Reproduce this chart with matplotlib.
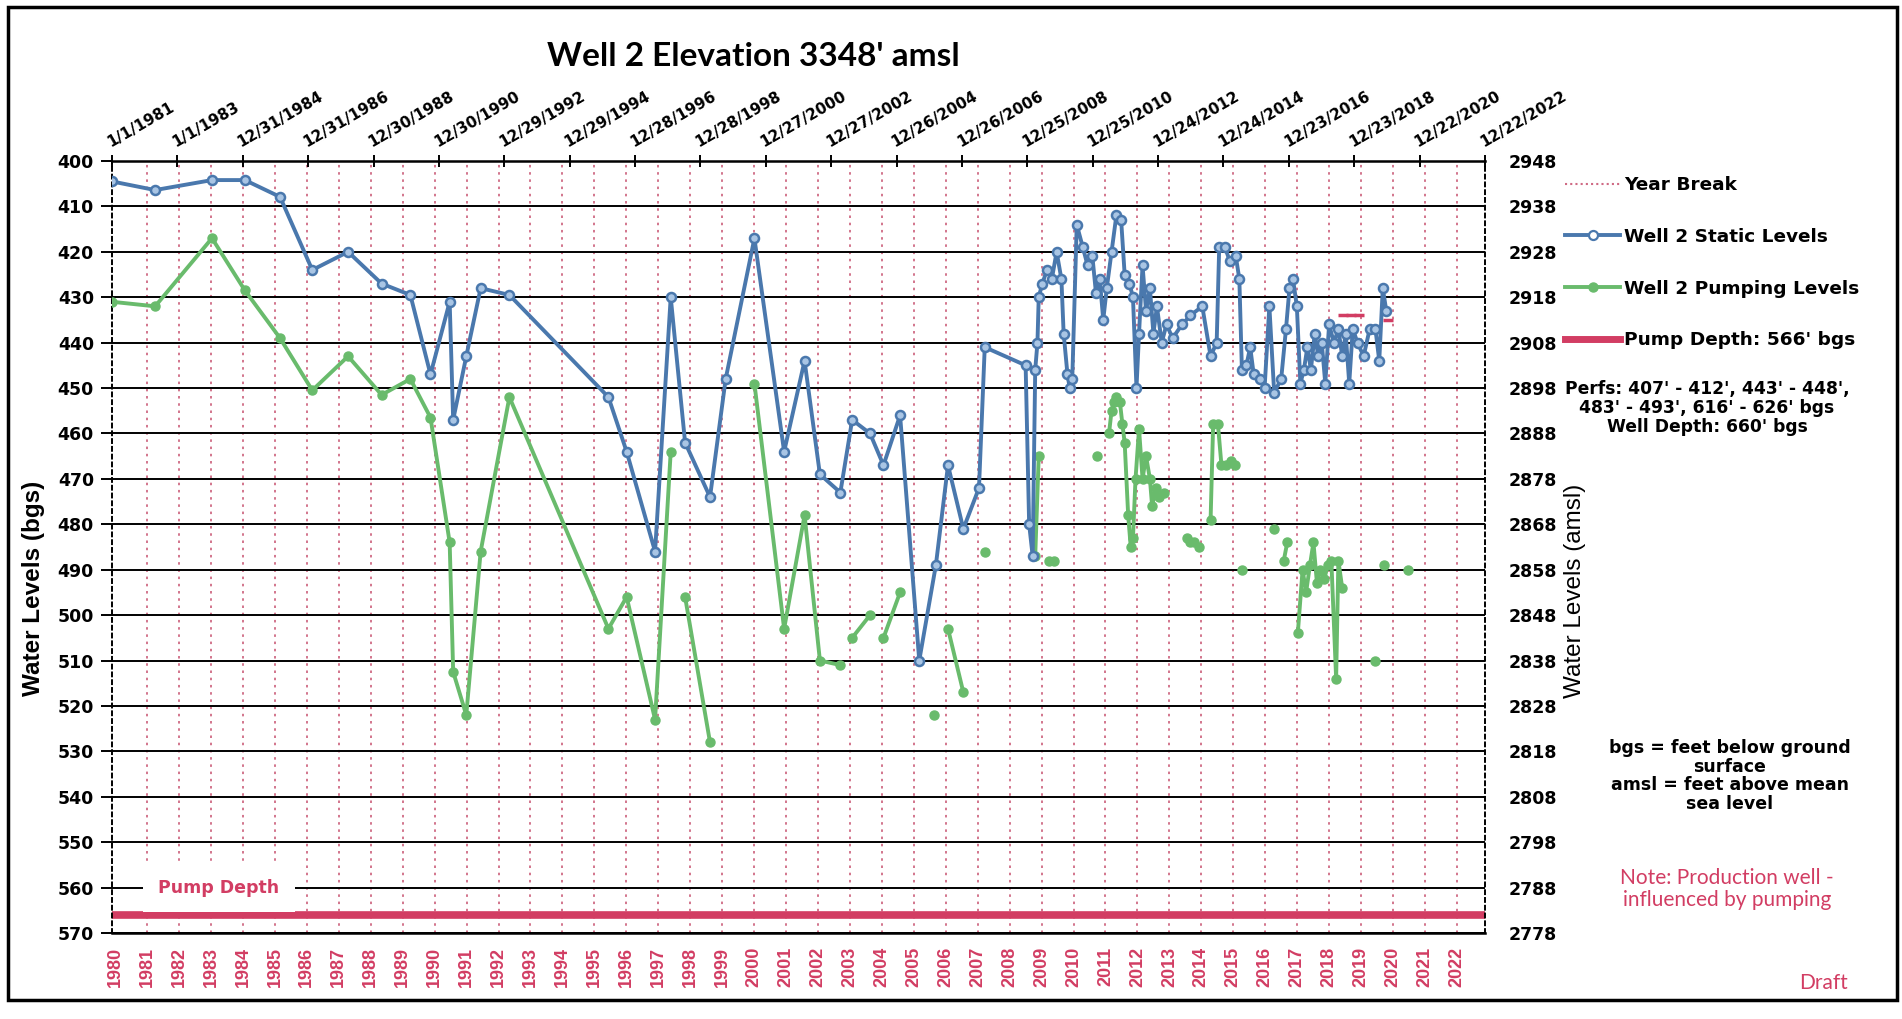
import numpy as np
import matplotlib
matplotlib.use('Agg')
import matplotlib.pyplot as plt
import matplotlib.dates as mdates
from matplotlib.lines import Line2D
from matplotlib.patches import Rectangle
from datetime import datetime, timedelta

plt.rcParams['font.family'] = ['DejaVu Sans']
ARIAL = ['Liberation Sans', 'DejaVu Sans']
CALIBRI = ['Lato', 'DejaVu Sans']

nan = np.nan

# ---- data (decimal year on the year-break axis, feet below ground) ----
static_yr = [1979.9, 1981.25, 1983.03, 1984.06, 1985.16, 1986.17, 1987.29, 1988.34, 1989.24, 1989.87,
             1990.47, 1990.58, 1990.99, 1991.44, 1992.34, 1995.44, 1996.01, 1996.90, 1997.39, 1997.84,
             1998.62, 1999.11, 2000.01, 2000.94, 2001.58, 2002.06, 2002.70, 2003.07, 2003.63, 2004.05,
             2004.57, 2005.17, 2005.69, 2006.07, 2006.55, 2007.04, 2007.22, 2008.50, 2008.61, 2008.72,
             2008.80, 2008.87, 2008.91, 2009.02, 2009.17, 2009.32, 2009.47, 2009.62, 2009.69, 2009.81,
             2009.88, 2009.96, 2010.10, 2010.29, 2010.44, 2010.59, 2010.70, 2010.82, 2010.93, 2011.04,
             2011.19, 2011.34, 2011.49, 2011.60, 2011.75, 2011.86, 2011.97, 2012.05, 2012.16, 2012.27,
             2012.39, 2012.50, 2012.61, 2012.76, 2012.91, 2013.10, 2013.40, 2013.66, 2014.03, 2014.29,
             2014.48, 2014.56, 2014.74, 2014.89, 2015.08, 2015.19, 2015.27, 2015.41, 2015.53, 2015.64,
             2015.83, 2015.98, 2016.13, 2016.28, 2016.50, 2016.65, 2016.76, 2016.87, 2016.99, 2017.10,
             2017.21, 2017.32, 2017.43, 2017.55, 2017.66, 2017.77, 2017.88, 2018.00, 2018.15, 2018.29,
             2018.41, 2018.52, 2018.63, 2018.74, 2018.89, 2019.08, 2019.27, 2019.45, 2019.57, 2019.68,
             2019.79]
static_bgs = [404.5, 406.4, 404.2, 404.2, 407.9, 424, 420, 427, 429.5, 447,
              431, 457, 443, 428, 429.5, 452, 464, 486, 430, 462,
              474, 448, 417, 464, 444, 469, 473, 457, 460, 467,
              456, 510, 489, 467, 481, 472, 441, 445, 480, 487,
              446, 440, 430, 427, 424, 426, 420, 426, 438, 447,
              450, 448, 414, 419, 423, 421, 429, 426, 435, 428,
              420, 412, 413, 425, 427, 430, 450, 438, 423, 433,
              428, 438, 432, 440, 436, 439, 436, 434, 432, 443,
              440, 419, 419, 422, 421, 426, 446, 445, 441, 447,
              448, 450, 432, 451, 448, 437, 428, 426, 432, 449,
              446, 441, 446, 438, 443, 440, 449, 436, 440, 437,
              443, 438, 449, 437, 440, 443, 437, 437, 444, 428,
              433]

pump_yr = [1979.9, 1981.25, 1983.03, 1984.06, 1985.16, 1986.17, 1987.29, 1988.34, 1989.24, 1989.87,
           1990.47, 1990.58, 1990.99, 1991.44, 1992.34, 1995.44, 1996.01, 1996.90, 1997.39, nan,
           1997.84, 1998.62, nan,
           2000.01, 2000.94, 2001.58, 2002.06, 2002.70, nan,
           2003.07, 2003.63, nan,
           2004.05, 2004.57, nan,
           2005.62, nan,
           2006.07, 2006.55, nan,
           2007.22, nan,
           2008.80, 2008.91, nan,
           2009.24, 2009.39, nan,
           2010.74, nan,
           2011.11, 2011.19, 2011.26, 2011.34, 2011.45, 2011.53, 2011.60, 2011.71, 2011.79, 2011.86,
           2011.94, 2012.05, 2012.16, 2012.27, 2012.39, 2012.46, 2012.57, 2012.68, 2012.83, nan,
           2013.55, 2013.66, 2013.77, 2013.92, nan,
           2014.29, 2014.37, 2014.52, 2014.63, 2014.78, 2014.93, 2015.04, nan,
           2015.27, nan,
           2016.28, nan,
           2016.58, 2016.69, nan,
           2017.02, 2017.17, 2017.28, 2017.40, 2017.51, 2017.62, 2017.73, 2017.85, 2017.96, 2018.07,
           2018.22, 2018.29, 2018.41, nan,
           2019.45, nan,
           2019.72, nan,
           2020.46]
pump_bgs = [431, 432, 417, 428.5, 439, 450.5, 443, 451.5, 448, 456.5,
            484, 512.5, 522, 486, 452, 503, 496, 523, 464, nan,
            496, 528, nan,
            449, 503, 478, 510, 511, nan,
            505, 500, nan,
            505, 495, nan,
            522, nan,
            503, 517, nan,
            486, nan,
            487, 465, nan,
            488, 488, nan,
            465, nan,
            460, 455, 453, 452, 453, 458, 462, 478, 485, 483,
            470, 459, 470, 465, 470, 476, 472, 474, 473, nan,
            483, 484, 484, 485, nan,
            479, 458, 458, 467, 467, 466, 467, nan,
            490, nan,
            481, nan,
            488, 484, nan,
            504, 490, 495, 489, 484, 493, 490, 492, 489, 488,
            514, 488, 494, nan,
            510, nan,
            489, nan,
            490]

red_yr = [2018.45, 2018.7, 2018.95, 2019.85]
red_bgs = [434, 434, 434, 435]

years = list(range(1980, 2023))
break_years = years[1:]
top_dates = [datetime(1981, 1, 1) + timedelta(days=730 * i) for i in range(22)]
top_labels = [f"{d.month}/{d.day}/{d.year}" for d in top_dates]
elevation = 3348
pump_depth = 566
bgs_ticks = list(range(400, 571, 10))
amsl_ticks = [elevation - v for v in bgs_ticks]

# ---- colours ----
BLUE = '#4a78ad'
BLUE_FILL = '#a9c5e4'
GREEN = '#69bb6c'
RED = '#d23d63'
BREAK = '#cf6a84'

W, H = 1902, 1019
def fx(px):
    return px / W
def fy(py):
    return 1 - py / H

fig = plt.figure(figsize=(W / 100, H / 100), dpi=100)
L, R, T, B = 112, 1485, 161, 933
ax = fig.add_axes([fx(L), fy(B), (R - L) / W, (B - T) / H])

ax.set_xlim(1979.9, 2022.88)
ax.set_ylim(570, 400)

for yr in break_years:
    ax.axvline(yr, color=BREAK, lw=1.3, ls=(0, (1.4, 2.6)), zorder=1)
ax.set_yticks(bgs_ticks)
ax.grid(axis='y', color='black', lw=1.4, zorder=1)

ax.axhline(pump_depth, color=RED, lw=5.5, zorder=2)
ax.plot(static_yr, static_bgs, color=BLUE, lw=2.8, marker='o', ms=6.5,
        mfc=BLUE_FILL, mec=BLUE, mew=1.8, zorder=4)
ax.plot(pump_yr, pump_bgs, color=GREEN, lw=2.8, marker='o', ms=6.5,
        mfc=GREEN, mec=GREEN, zorder=3)
ax.plot(red_yr, red_bgs, ls='none', marker='_', ms=7, mew=2.5, color=RED, zorder=5)

ax.text(1983.25, 560, 'Pump Depth', color=RED, fontsize=12.5, fontweight='bold',
        ha='center', va='center', zorder=3,
        bbox=dict(boxstyle='square,pad=0.9', fc='white', ec='none'))

ax.set_xticks(years)
ax.set_xticklabels([str(y) for y in years], rotation=90, color=RED,
                   fontsize=13, fontweight='bold', family=ARIAL)
ax.tick_params(axis='x', length=0, pad=10)
ax.tick_params(axis='y', direction='out', length=8, width=1.4, pad=5,
               labelsize=12.5)
for lab in ax.get_yticklabels():
    lab.set_fontweight('bold')

for side in ['left', 'right']:
    ax.spines[side].set_linestyle((0, (2, 2)))
    ax.spines[side].set_linewidth(1.4)
ax.spines['top'].set_linewidth(1.8)
ax.spines['bottom'].set_linewidth(1.8)

# top date axis
ax_top = ax.twiny()
ax_top.set_xlim(mdates.date2num(top_dates[0]), mdates.date2num(top_dates[-1]))
ax_top.set_xticks([mdates.date2num(d) for d in top_dates])
ax_top.tick_params(axis='x', direction='inout', length=8, width=1.4, pad=4)
ax_top.set_xticklabels(top_labels, fontsize=11, fontweight='bold',
                       rotation=30, ha='left', rotation_mode='anchor')
for s in ax_top.spines.values():
    s.set_visible(False)

# right amsl axis
ax_r = ax.twinx()
ax_r.set_ylim(elevation - 570, elevation - 400)
ax_r.set_yticks(amsl_ticks)
ax_r.tick_params(axis='y', length=0, pad=17, labelsize=12.5)
for lab in ax_r.get_yticklabels():
    lab.set_fontweight('bold')
for s in ax_r.spines.values():
    s.set_visible(False)

fig.text(fx(753), fy(56), "Well 2 Elevation 3348' amsl", fontsize=24,
         fontweight='bold', family=CALIBRI, ha='center', va='center')
fig.text(fx(34), fy(588), 'Water Levels (bgs)', rotation=90, fontsize=17.5,
         fontweight='bold', family=ARIAL, ha='center', va='center')
fig.text(fx(1575), fy(591), 'Water Levels (amsl)', rotation=90, fontsize=17.5,
         family=ARIAL, ha='center', va='center')

handles = [
    Line2D([], [], color=BREAK, lw=1.5, ls=(0, (1, 1.5))),
    Line2D([], [], color=BLUE, lw=2.8, marker='o', ms=6.5, mfc='white', mec=BLUE, mew=1.6),
    Line2D([], [], color=GREEN, lw=2.8, marker='o', ms=6.5, mfc=GREEN, mec=GREEN),
    Line2D([], [], color=RED, lw=5),
]
labels = ['Year Break', 'Well 2 Static Levels', 'Well 2 Pumping Levels', "Pump Depth: 566' bgs"]
fig.legend(handles, labels, loc='upper left', bbox_to_anchor=(fx(1565), fy(176)),
           frameon=False, prop=dict(size=13.3, weight='bold'), handlelength=3.0,
           handletextpad=0.2, labelspacing=1.83, borderpad=0, borderaxespad=0)

fig.text(fx(1707), fy(408), "Perfs: 407' - 412', 443' - 448',\n483' - 493', 616' - 626' bgs\nWell Depth: 660' bgs",
         fontsize=12.3, fontweight='bold', ha='center', va='center', linespacing=1.1)
fig.text(fx(1730), fy(776), "bgs = feet below ground\nsurface\namsl = feet above mean\nsea level",
         fontsize=12.5, fontweight='bold', ha='center', va='center', linespacing=1.05)
fig.text(fx(1727), fy(889), "Note: Production well -\ninfluenced by pumping", color=RED,
         fontsize=15, family=CALIBRI, ha='center', va='center', linespacing=1.15)
fig.text(fx(1848), fy(983), 'Draft', color=RED, fontsize=15,
         family=CALIBRI, ha='right', va='center')

fig.add_artist(Rectangle((fx(8), fy(1000)), (1897 - 8) / W, (1000 - 7) / H,
                         transform=fig.transFigure, fill=False, lw=2.5, ec='black'))

fig.savefig('out.png', dpi=100)
